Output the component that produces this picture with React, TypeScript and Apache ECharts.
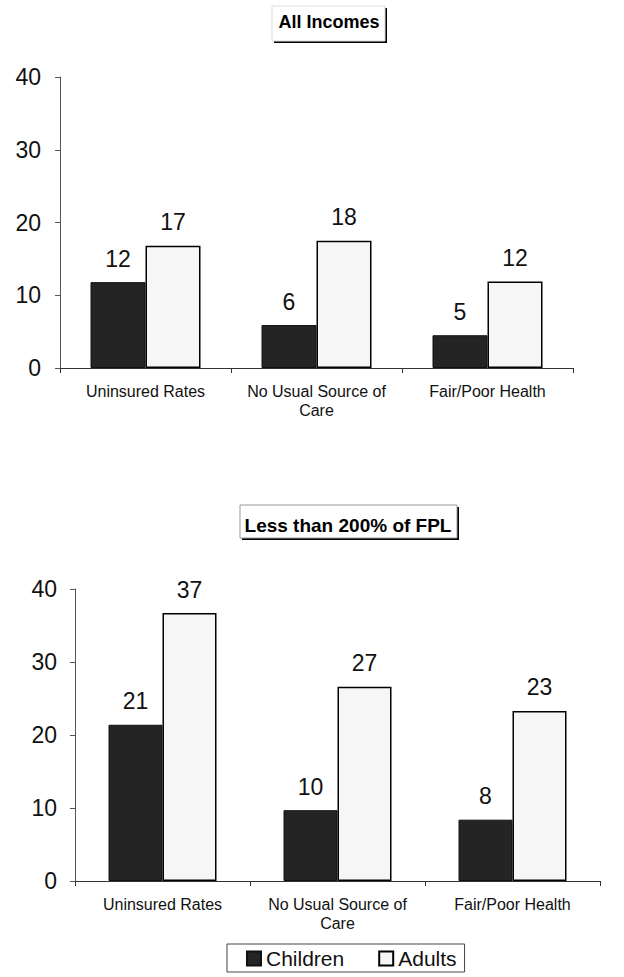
import React, { useEffect, useRef } from "react";
import * as echarts from "echarts";

const categories = ["Uninsured Rates", "No Usual Source of\nCare", "Fair/Poor Health"];
const allChildren = [11.8, 5.9, 4.5];
const allAdults = [16.8, 17.5, 11.9];
const lowChildren = [21.4, 9.7, 8.4];
const lowAdults = [36.7, 26.6, 23.3];
const yTicks = [0, 10, 20, 30, 40];
const title1 = "All Incomes";
const title2 = "Less than 200% of FPL";

const FONT = "'Liberation Sans', Arial, sans-serif";

export default function App() {
  const ref = useRef<HTMLDivElement>(null);
  useEffect(() => {
    if (!ref.current) return;
    const chart = echarts.init(ref.current, undefined, { renderer: "svg" });
    const xAxisBase = {
      type: "category" as const,
      data: categories,
      boundaryGap: true,
      axisLine: { show: true, lineStyle: { color: "#333", width: 1 } },
      axisTick: { show: true, length: 5, lineStyle: { color: "#333" } },
      axisLabel: { color: "#111", fontSize: 16, fontFamily: FONT, margin: 14, lineHeight: 19, interval: 0 },
    };
    const yAxisBase = {
      type: "value" as const,
      min: yTicks[0],
      max: yTicks[yTicks.length - 1],
      interval: 10,
      splitLine: { show: false },
      axisLine: { show: true, lineStyle: { color: "#555", width: 1 } },
      axisTick: { show: true, length: 5, lineStyle: { color: "#555" } },
      axisLabel: { color: "#111", fontSize: 23, fontFamily: FONT, margin: 19 },
    };
    const label = {
      show: true,
      position: "top" as const,
      distance: 12,
      color: "#111",
      fontSize: 23,
      fontFamily: FONT,
      formatter: (p: any) => String(Math.round(p.value)),
    };
    const childStyle = { color: "#242424", borderColor: "#111", borderWidth: 1 };
    const adultStyle = { color: "#f6f6f6", borderColor: "#000", borderWidth: 1.5 };

    const option: any = {
      animation: false,
      backgroundColor: "#fff",
      textStyle: { fontFamily: FONT },
      grid: [
        { left: 60, right: 51, top: 77, height: 291 },
        { left: 75, right: 24, top: 589, height: 292 },
      ],
      xAxis: [
        { ...xAxisBase, gridIndex: 0 },
        { ...xAxisBase, gridIndex: 1 },
      ],
      yAxis: [
        { ...yAxisBase, gridIndex: 0, axisLabel: { ...yAxisBase.axisLabel, margin: 19 } },
        { ...yAxisBase, gridIndex: 1, axisLabel: { ...yAxisBase.axisLabel, margin: 18 } },
      ],
      legend: {
        data: ["Children", "Adults"],
        left: 227,
        top: 944,
        orient: "horizontal",
        borderColor: "#444",
        borderWidth: 1,
        padding: [4, 8, 3, 19],
        itemGap: 34,
        itemWidth: 14,
        itemHeight: 14,
        icon: "rect",
        textStyle: { color: "#111", fontSize: 21, fontFamily: FONT },
      },
      series: [
        { name: "Children", type: "bar", xAxisIndex: 0, yAxisIndex: 0, data: allChildren, barWidth: 55, barGap: "0%", itemStyle: childStyle, label },
        { name: "Adults", type: "bar", xAxisIndex: 0, yAxisIndex: 0, data: allAdults, barWidth: 55, barGap: "0%", itemStyle: adultStyle, label },
        { name: "Children", type: "bar", xAxisIndex: 1, yAxisIndex: 1, data: lowChildren, barWidth: 54, barGap: "0%", itemStyle: childStyle, label },
        { name: "Adults", type: "bar", xAxisIndex: 1, yAxisIndex: 1, data: lowAdults, barWidth: 54, barGap: "0%", itemStyle: adultStyle, label },
      ],
      graphic: [
        { type: "rect", shape: { x: 274, y: 8, width: 113, height: 35 }, style: { fill: "#000" }, z: 10 },
        { type: "rect", shape: { x: 272, y: 6, width: 113, height: 35 }, style: { fill: "#fff", stroke: "#ddd", lineWidth: 1 }, z: 11 },
        { type: "text", x: 329, y: 22, style: { text: title1, fill: "#000", font: `bold 18px ${FONT}`, textAlign: "center", textVerticalAlign: "middle" }, z: 12 },
        { type: "rect", shape: { x: 242, y: 507, width: 217, height: 33 }, style: { fill: "#000" }, z: 10 },
        { type: "rect", shape: { x: 240, y: 505, width: 217, height: 33 }, style: { fill: "#fff", stroke: "#999", lineWidth: 1 }, z: 11 },
        { type: "text", x: 348, y: 525, style: { text: title2, fill: "#000", font: `bold 19px ${FONT}`, textAlign: "center", textVerticalAlign: "middle" }, z: 12 },
      ],
    };
    chart.setOption(option);
    return () => chart.dispose();
  }, []);
  return <div ref={ref} style={{ position: "absolute", left: 0, top: 0, width: 624, height: 977 }} />;
}
